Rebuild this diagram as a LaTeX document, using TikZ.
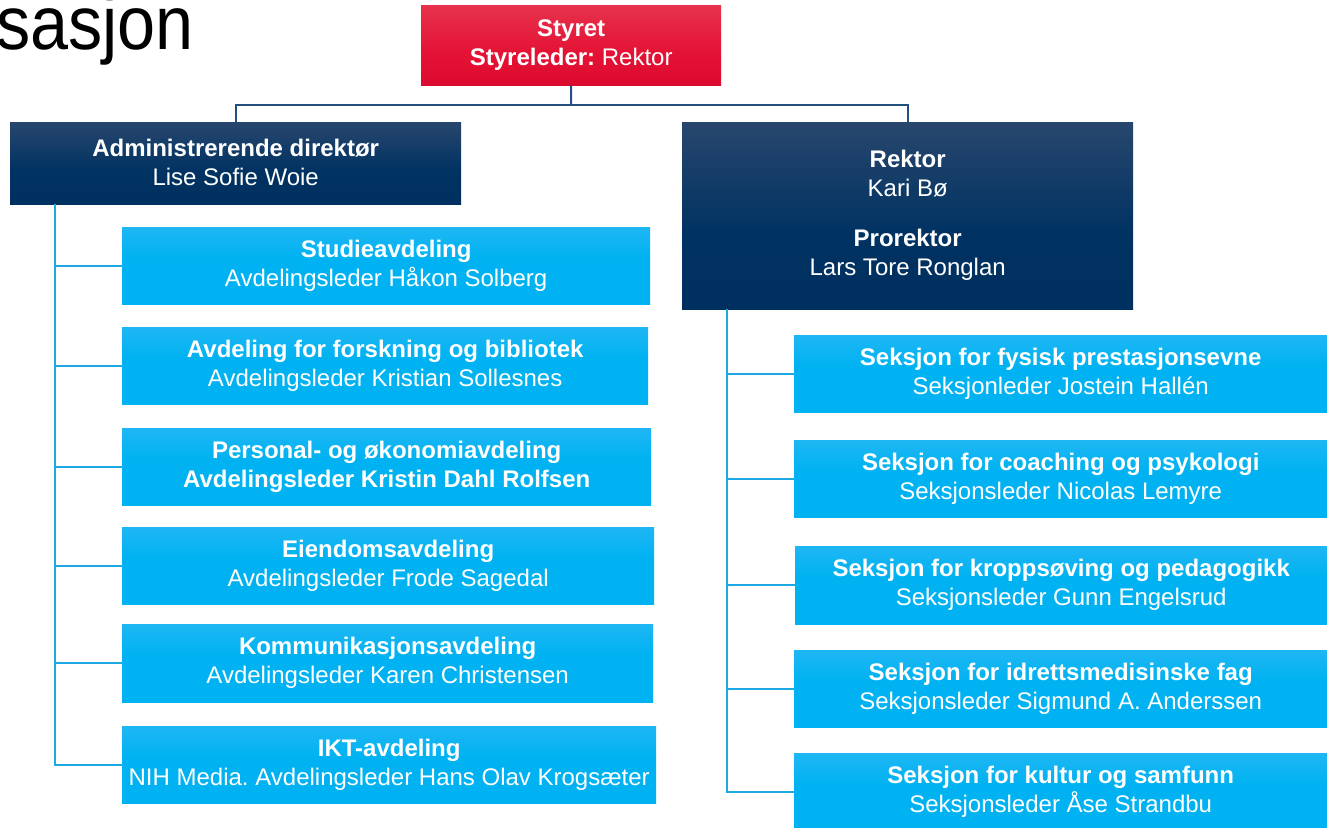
\documentclass[tikz,border=0pt]{standalone}
\usepackage{fontspec}
\setmainfont{Liberation Sans}
\usepackage{graphicx}
\frenchspacing
\definecolor{redT}{RGB}{233,76,96}
\definecolor{redM}{RGB}{228,18,52}
\definecolor{redB}{RGB}{210,0,40}
\definecolor{navyT}{RGB}{73,88,118}
\definecolor{navyM}{RGB}{0,50,98}
\definecolor{navyB}{RGB}{0,45,90}
\definecolor{lbT}{RGB}{68,188,246}
\definecolor{lbM}{RGB}{0,178,241}
\definecolor{lbB}{RGB}{0,161,228}
\definecolor{topblue}{RGB}{36,80,128}
\definecolor{subblue}{RGB}{30,168,228}
\pgfdeclareverticalshading{redshade}{100bp}{color(0bp)=(redB); color(45bp)=(redM); color(100bp)=(redT)}
\pgfdeclareverticalshading{navyshade}{100bp}{color(0bp)=(navyB); color(45bp)=(navyM); color(100bp)=(navyT)}
\pgfdeclareverticalshading{lbshade}{100bp}{color(0bp)=(lbB); color(25bp)=(lbM); color(55bp)=(lbM); color(100bp)=(lbT)}
\newcommand\orgfs{\fontsize{24}{29}\selectfont\frenchspacing}
\tikzset{
  orgbox/.style={inner sep=0pt, align=center, text=white, font=\orgfs, anchor=north west, shade},
  lbox/.style={orgbox, shading=lbshade, minimum height=77pt},
  nbox/.style={orgbox, shading=navyshade},
  rbox/.style={orgbox, shading=redshade},
  trunkline/.style={draw=topblue, line width=2pt},
  subline/.style={draw=subblue, line width=2pt},
}
\begin{document}
\begin{tikzpicture}[x=1pt,y=-1pt]
\useasboundingbox (0,0) rectangle (1327,827);
\fill[white] (0,0) rectangle (1327,827);
\node[anchor=base east, inner sep=0pt, font=\fontsize{76}{90}\selectfont] (title) at (194,49) {\scalebox{0.9}[1]{sasjon}};

\node[rbox, minimum width=300pt, minimum height=80pt] (styret) at (421,5) {\textbf{Styret}\\\textbf{Styreleder:} Rektor};
\node[nbox, minimum width=451pt, minimum height=82pt] (admin) at (10,122) {\textbf{Administrerende direktør}\\Lise Sofie Woie\rule[-2pt]{0pt}{1pt}};
\node[nbox, minimum width=451pt, minimum height=187pt] (rektor) at (682,122) {\textbf{Rektor}\\Kari Bø\\[21pt]\textbf{Prorektor}\\Lars Tore Ronglan};

\node[lbox, minimum width=528pt] (l1) at (122,227) {\textbf{Studieavdeling}\\Avdelingsleder Håkon Solberg};
\node[lbox, minimum width=526pt] (l2) at (122,327) {\textbf{Avdeling for forskning og bibliotek}\\Avdelingsleder Kristian Sollesnes};
\node[lbox, minimum width=529pt] (l3) at (122,428) {\textbf{Personal- og økonomiavdeling}\\\textbf{Avdelingsleder Kristin Dahl Rolfsen}};
\node[lbox, minimum width=532pt] (l4) at (122,527) {\textbf{Eiendomsavdeling}\\Avdelingsleder Frode Sagedal};
\node[lbox, minimum width=531pt, minimum height=78pt] (l5) at (122,624) {\textbf{Kommunikasjonsavdeling}\\Avdelingsleder Karen Christensen};
\node[lbox, minimum width=534pt] (l6) at (122,726) {\textbf{IKT-avdeling}\\NIH Media. Avdelingsleder Hans Olav Krogsæter};

\node[lbox, minimum width=533pt] (r1) at (794,335) {\textbf{Seksjon for fysisk prestasjonsevne}\\Seksjonleder Jostein Hallén};
\node[lbox, minimum width=533pt] (r2) at (794,440) {\textbf{Seksjon for coaching og psykologi}\\Seksjonsleder Nicolas Lemyre};
\node[lbox, minimum width=532pt, minimum height=78pt] (r3) at (795,546) {\textbf{Seksjon for kroppsøving og pedagogikk}\\Seksjonsleder Gunn Engelsrud};
\node[lbox, minimum width=533pt] (r4) at (794,650) {\textbf{Seksjon for idrettsmedisinske fag}\\Seksjonsleder Sigmund A. Anderssen};
\node[lbox, minimum width=533pt] (r5) at (794,753) {\textbf{Seksjon for kultur og samfunn}\\Seksjonsleder Åse Strandbu};

\coordinate (tj) at (571,105);
\draw[trunkline] (styret.south) -- (tj);
\draw[trunkline] (admin.north) |- (tj);
\draw[trunkline] (rektor.north) |- (tj);

\coordinate (lt) at ([xshift=45pt]admin.south west);
\foreach \b in {l1,l2,l3,l4,l5,l6} \draw[subline] (lt) |- (\b.west);
\coordinate (rt) at ([xshift=45pt]rektor.south west);
\foreach \b in {r1,r2,r3,r4,r5} \draw[subline] (rt) |- (\b.west);
\end{tikzpicture}
\end{document}
